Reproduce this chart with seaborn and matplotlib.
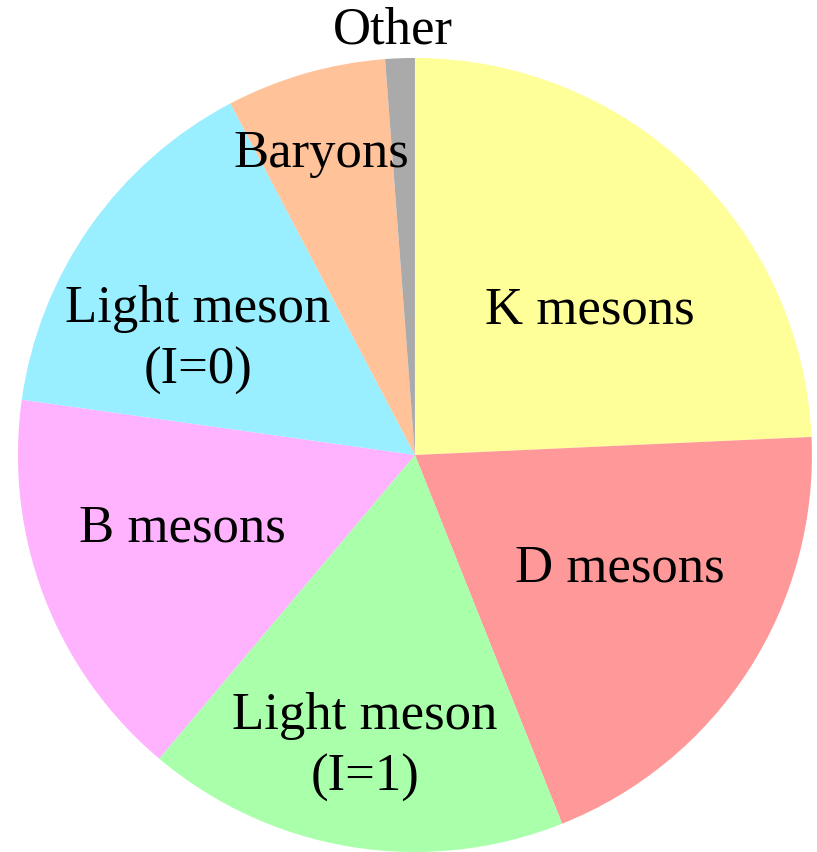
import seaborn as sns
import matplotlib.pyplot as plt

sns.set_theme(style="white")
plt.rcParams['font.family'] = ['Liberation Serif', 'DejaVu Serif']

# shares in percent, clockwise from the top
categories = ["K mesons", "D mesons", "Light meson\n(I=1)", "B mesons",
              "Light meson\n(I=0)", "Baryons", "Other"]
shares = [24.3, 19.7, 17.2, 16.1, 15.1, 6.5, 1.2]
colors = ["#FFFF99", "#FF9999", "#AAFFAA", "#FFB3FF", "#99EEFF", "#FFC299", "#AAAAAA"]

# label positions (pie radius = 1)
label_pos = [(0.44, 0.365), (0.516, -0.285), (-0.126, -0.735), (-0.587, -0.184),
             (-0.547, 0.29), (-0.236, 0.757), (-0.055, 1.07)]

fig = plt.figure(figsize=(8.17, 8.52), dpi=100)
ax = fig.add_axes([0, 0, 1, 1])

ax.pie(shares, colors=colors, startangle=90, counterclock=False,
       wedgeprops=dict(linewidth=0))

for name, (x, y) in zip(categories, label_pos):
    ax.text(x, y, name, ha="center", va="center", fontsize=38,
            linespacing=1.38, color="black")

ax.set_xlim(-1.045, 1.0126)
ax.set_ylim(-1.0, 1.146)
ax.set_aspect("equal")
ax.axis("off")

fig.savefig("out.png", dpi=100)
